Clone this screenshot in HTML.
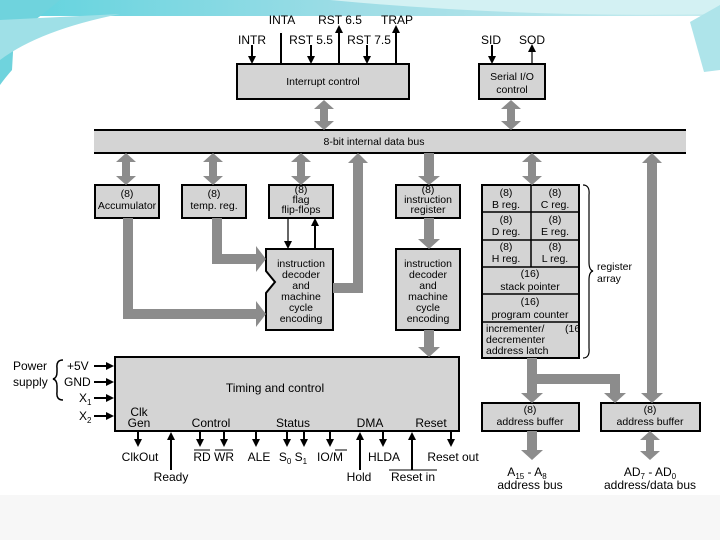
<!DOCTYPE html>
<html><head><meta charset="utf-8"><style>
html,body{margin:0;padding:0;background:#fff;}
svg{display:block;font-family:"Liberation Sans",Arial,sans-serif;}
</style></head><body>
<svg width="720" height="540" viewBox="0 0 720 540" xmlns="http://www.w3.org/2000/svg">
<defs>
<linearGradient id="tg" x1="0" y1="0" x2="1" y2="0"><stop offset="0" stop-color="#5fd3de"/><stop offset="0.5" stop-color="#9fdde6"/><stop offset="1" stop-color="#c7ecef"/></linearGradient>
<marker id="ah" markerWidth="8" markerHeight="8" refX="4" refY="4" orient="auto" markerUnits="userSpaceOnUse"><path d="M0,0 L8,4 L0,8 z" fill="#000"/></marker>
</defs>
<rect x="0" y="0" width="720" height="540" fill="#fff"/>
<rect x="0" y="495" width="720" height="45" fill="#f7f7f7"/>
<path d="M0,0 H720 V18 H0 Z" fill="url(#tg)"/>
<path d="M330,0 L720,0 L720,14 Q520,18 330,0 Z" fill="#d3f1f3"/>
<rect x="12" y="16" width="690" height="479" fill="#fff"/>
<path d="M0,0 L60,0 Q30,25 14,35 L12,70 Q5,78 0,85 Z" fill="#6fd3dd"/>
<path d="M0,60 Q40,30 120,14 L0,20 Z" fill="#9fe0e7"/>
<path d="M690,22 L720,5 L720,70 L704,72 Z" fill="#aee4ea"/>

<g stroke="#000" fill="#d4d4d4" stroke-width="2">
<rect x="237" y="64" width="172" height="35"/>
<rect x="479" y="64" width="66" height="35"/>
<rect x="95" y="185" width="64" height="33"/>
<rect x="182" y="185" width="64" height="33"/>
<rect x="269" y="185" width="64" height="33"/>
<rect x="396" y="185" width="64" height="33"/>
<rect x="482" y="185" width="97" height="173"/>
<path d="M266,249 H333 V330 H266 V293 L275,282 L266,271 Z"/>
<rect x="396" y="249" width="64" height="81"/>
<rect x="115" y="357" width="344" height="74"/>
<rect x="482" y="403" width="97" height="28"/>
<rect x="601" y="403" width="99" height="28"/>
</g>
<g stroke="#000" stroke-width="1.5">
<line x1="531" y1="185" x2="531" y2="267"/>
<line x1="482" y1="212" x2="579" y2="212"/>
<line x1="482" y1="240" x2="579" y2="240"/>
<line x1="482" y1="267" x2="579" y2="267"/>
<line x1="482" y1="294" x2="579" y2="294"/>
<line x1="482" y1="322" x2="579" y2="322"/>
</g>
<rect x="94" y="130" width="592" height="23" fill="#d4d4d4"/>
<line x1="94" y1="130" x2="686" y2="130" stroke="#000" stroke-width="2"/>
<line x1="94" y1="153" x2="686" y2="153" stroke="#000" stroke-width="2"/>

<g fill="#8c8c8c">
<path d="M324,100 L334,109 L328,109 L328,121 L334,121 L324,130 L314,121 L320,121 L320,109 L314,109 Z"/>
<path d="M511,100 L521,109 L515,109 L515,121 L521,121 L511,130 L501,121 L507,121 L507,109 L501,109 Z"/>
<path d="M126,153 L136,162 L130,162 L130,176 L136,176 L126,185 L116,176 L122,176 L122,162 L116,162 Z"/>
<path d="M213,153 L223,162 L217,162 L217,176 L223,176 L213,185 L203,176 L209,176 L209,162 L203,162 Z"/>
<path d="M301,153 L311,162 L305,162 L305,176 L311,176 L301,185 L291,176 L297,176 L297,162 L291,162 Z"/>
<path d="M532,153 L542,162 L536,162 L536,176 L542,176 L532,185 L522,176 L528,176 L528,162 L522,162 Z"/>
<path d="M358,153 L368,163 L363,163 L363,293 L333,293 L333,283 L353,283 L353,163 L348,163 Z"/>
<path d="M424,153 H434 V176 H440 L429,185 L418,176 H424 Z"/>
<path d="M424,218 H434 V239 H440 L429,249 L418,239 H424 Z"/>
<path d="M424,330 H434 V347 H440 L429,357 L418,347 H424 Z"/>
<path d="M652,153 L662,163 L657,163 L657,393 L663,393 L652,403 L641,393 L647,393 L647,163 L642,163 Z"/>
<path d="M123,218 H133 V309 H256 V301 L266,314 L256,327 V319 H123 Z"/>
<path d="M212,218 H222 V254 H256 V246 L266,259 L256,272 V264 H212 Z"/>
<path d="M527,358 H537 V374 H620 V393 H626 L615,403 L604,393 H610 V384 H537 V393 H543 L532,403 L521,393 H527 Z"/>
<path d="M527,431 H537 V450 H543 L532,460 L521,450 H527 Z"/>
<path d="M650,431 L660,440 L654,440 L654,451 L660,451 L650,460 L640,451 L646,451 L646,440 L640,440 Z"/>
</g>

<g stroke="#000" stroke-width="2" fill="none">
<line x1="252" y1="45" x2="252" y2="60" marker-end="url(#ah)"/>
<line x1="281" y1="33" x2="281" y2="64"/>
<line x1="311" y1="45" x2="311" y2="60" marker-end="url(#ah)"/>
<line x1="339" y1="64" x2="339" y2="29" marker-end="url(#ah)"/>
<line x1="367" y1="45" x2="367" y2="60" marker-end="url(#ah)"/>
<line x1="396" y1="64" x2="396" y2="29" marker-end="url(#ah)"/>
<line x1="492" y1="45" x2="492" y2="60" marker-end="url(#ah)"/>
<line x1="532" y1="64" x2="532" y2="48" stroke-width="1.2" marker-end="url(#ah)"/>
<line x1="288" y1="218" x2="288" y2="245" stroke-width="1.2" marker-end="url(#ah)"/>
<line x1="315" y1="249" x2="315" y2="222" marker-end="url(#ah)"/>
<line x1="94" y1="366" x2="110" y2="366" marker-end="url(#ah)"/>
<line x1="94" y1="382" x2="110" y2="382" marker-end="url(#ah)"/>
<line x1="94" y1="398" x2="110" y2="398" marker-end="url(#ah)"/>
<line x1="94" y1="416" x2="110" y2="416" marker-end="url(#ah)"/>
<line x1="138" y1="431" x2="138" y2="443" marker-end="url(#ah)"/>
<line x1="171" y1="470" x2="171" y2="436" marker-end="url(#ah)"/>
<line x1="200" y1="431" x2="200" y2="443" marker-end="url(#ah)"/>
<line x1="224" y1="431" x2="224" y2="443" marker-end="url(#ah)"/>
<line x1="256" y1="431" x2="256" y2="443" marker-end="url(#ah)"/>
<line x1="287" y1="431" x2="287" y2="443" marker-end="url(#ah)"/>
<line x1="304" y1="431" x2="304" y2="443" marker-end="url(#ah)"/>
<line x1="330" y1="431" x2="330" y2="443" marker-end="url(#ah)"/>
<line x1="360" y1="470" x2="360" y2="436" marker-end="url(#ah)"/>
<line x1="383" y1="431" x2="383" y2="443" marker-end="url(#ah)"/>
<line x1="412" y1="470" x2="412" y2="436" marker-end="url(#ah)"/>
<line x1="451" y1="431" x2="451" y2="443" marker-end="url(#ah)"/>
</g>
<path d="M63,360 Q56,360 57,368 L57,372 Q57,378 53,379 Q57,380 57,386 L57,392 Q56,400 63,400" stroke="#000" stroke-width="1.5" fill="none"/>
<path d="M583,185 Q590,185 589,195 L589,262 Q589,270 593,271 Q589,272 589,280 L589,348 Q590,358 583,358" stroke="#000" stroke-width="1.2" fill="none"/>

<g font-size="12" fill="#000" text-anchor="middle">
<text x="282" y="24">INTA</text>
<text x="340" y="24">RST 6.5</text>
<text x="397" y="24">TRAP</text>
<text x="252" y="44">INTR</text>
<text x="311" y="44">RST 5.5</text>
<text x="369" y="44">RST 7.5</text>
<text x="491" y="44">SID</text>
<text x="532" y="44">SOD</text>
</g>
<g font-size="10.5" fill="#000" text-anchor="middle">
<text x="323" y="85">Interrupt control</text>
<text x="512" y="80">Serial I/O</text>
<text x="512" y="93">control</text>
<text x="374" y="145">8-bit internal data bus</text>
<text x="127" y="197">(8)</text><text x="127" y="209">Accumulator</text>
<text x="214" y="197">(8)</text><text x="214" y="209">temp. reg.</text>
<text x="301" y="193">(8)</text><text x="301" y="203">flag</text><text x="301" y="213">flip-flops</text>
<text x="428" y="193">(8)</text><text x="428" y="203">instruction</text><text x="428" y="213">register</text>
<text x="506" y="196">(8)</text><text x="506" y="208">B reg.</text>
<text x="555" y="196">(8)</text><text x="555" y="208">C reg.</text>
<text x="506" y="223">(8)</text><text x="506" y="235">D reg.</text>
<text x="555" y="223">(8)</text><text x="555" y="235">E reg.</text>
<text x="506" y="250">(8)</text><text x="506" y="262">H reg.</text>
<text x="555" y="250">(8)</text><text x="555" y="262">L reg.</text>
<text x="530" y="277">(16)</text><text x="530" y="290">stack pointer</text>
<text x="530" y="305">(16)</text><text x="530" y="318">program counter</text>
<text x="301" y="267">instruction</text><text x="301" y="278">decoder</text><text x="301" y="289">and</text><text x="301" y="300">machine</text><text x="301" y="311">cycle</text><text x="301" y="322">encoding</text>
<text x="428" y="267">instruction</text><text x="428" y="278">decoder</text><text x="428" y="289">and</text><text x="428" y="300">machine</text><text x="428" y="311">cycle</text><text x="428" y="322">encoding</text>
<text x="530" y="413">(8)</text><text x="530" y="425">address buffer</text>
<text x="650" y="413">(8)</text><text x="650" y="425">address buffer</text>
</g>
<g font-size="10.5" fill="#000">
<text x="486" y="332">incrementer/</text><text x="565" y="332">(16</text>
<text x="486" y="343">decrementer</text>
<text x="486" y="354">address latch</text>
<text x="597" y="270">register</text>
<text x="597" y="282">array</text>
</g>
<g font-size="12" fill="#000" text-anchor="middle">
<text x="275" y="392">Timing and control</text>
<text x="139" y="416">Clk</text>
<text x="139" y="427">Gen</text>
<text x="211" y="427">Control</text>
<text x="293" y="427">Status</text>
<text x="370" y="427">DMA</text>
<text x="431" y="427">Reset</text>
<text x="140" y="461">ClkOut</text>
<text x="171" y="481">Ready</text>
<text x="202" y="461">RD</text>
<text x="224" y="461">WR</text>
<text x="259" y="461">ALE</text>
<text x="293" y="461">S<tspan font-size="8" dy="3">0</tspan><tspan dy="-3"> S</tspan><tspan font-size="8" dy="3">1</tspan></text>
<text x="330" y="461">IO/M</text>
<text x="384" y="461">HLDA</text>
<text x="453" y="461">Reset out</text>
<text x="359" y="481">Hold</text>
<text x="413" y="481">Reset in</text>
<text x="527" y="476">A<tspan font-size="8" dy="3">15</tspan><tspan dy="-3"> - A</tspan><tspan font-size="8" dy="3">8</tspan></text>
<text x="530" y="489">address bus</text>
<text x="650" y="476">AD<tspan font-size="8" dy="3">7</tspan><tspan dy="-3"> - AD</tspan><tspan font-size="8" dy="3">0</tspan></text>
<text x="650" y="489">address/data bus</text>
</g>
<g font-size="12" fill="#000">
<text x="13" y="370">Power</text>
<text x="13" y="386">supply</text>
<text x="67" y="370">+5V</text>
<text x="64" y="386">GND</text>
<text x="79" y="402">X<tspan font-size="8" dy="3">1</tspan></text>
<text x="79" y="420">X<tspan font-size="8" dy="3">2</tspan></text>
</g>
<g stroke="#000" stroke-width="1">
<line x1="194" y1="450" x2="210" y2="450"/>
<line x1="215" y1="450" x2="233" y2="450"/>
<line x1="335" y1="450" x2="347" y2="450"/>
<line x1="389" y1="470" x2="437" y2="470"/>
</g>
</svg>
</body></html>
